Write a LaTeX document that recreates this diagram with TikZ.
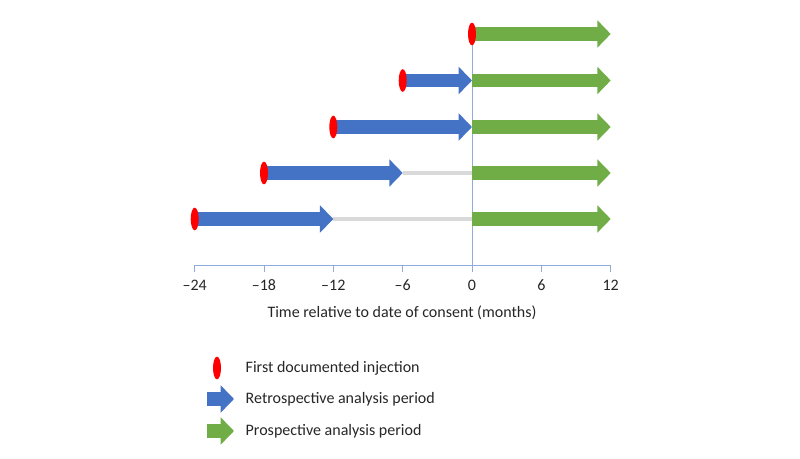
\documentclass[tikz,border=0pt]{standalone}
\usepackage{fontspec}
\setmainfont{Carlito}
\usetikzlibrary{arrows.meta,shapes.geometric}
\definecolor{retroblue}{HTML}{4472C4}
\definecolor{prospgreen}{HTML}{70AD47}
\definecolor{injred}{HTML}{FF0000}
\definecolor{gapgray}{HTML}{D9D9D9}
\definecolor{axisblue}{HTML}{8FAADC}
\definecolor{labeltext}{HTML}{262626}
\begin{document}
\begin{tikzpicture}[x=0.75pt,y=-0.75pt,
  font=\fontsize{12}{14}\selectfont, text=labeltext,
  inject/.style={ellipse, fill=injred, minimum width=6pt, minimum height=17pt, inner sep=0pt},
  retro/.style={draw=retroblue, line width=10pt, -{Triangle[length=10pt,width=20pt]}},
  prosp/.style={draw=prospgreen, line width=10pt, -{Triangle[length=10pt,width=20pt]}},
  gapline/.style={draw=gapgray, line width=3.5pt},
  axisline/.style={draw=axisblue, line width=0.7pt}]
\useasboundingbox (0,0) rectangle (800,459);

% row positions
\coordinate (s1) at (472,34);
\coordinate (e1) at (610.7,34);
\coordinate (s2) at (402.7,80.5);
\coordinate (z2) at (472,80.5);
\coordinate (e2) at (610.7,80.5);
\coordinate (s3) at (333.3,127);
\coordinate (z3) at (472,127);
\coordinate (e3) at (610.7,127);
\coordinate (s4) at (264,173);
\coordinate (m4) at (402.7,173);
\coordinate (z4) at (472,173);
\coordinate (e4) at (610.7,173);
\coordinate (s5) at (194.7,219);
\coordinate (m5) at (333.3,219);
\coordinate (z5) at (472,219);
\coordinate (e5) at (610.7,219);

% axis
\coordinate (ax0) at (472,265);
\node[inner sep=0pt] (tm24) at (194.7,265) {};
\node[inner sep=0pt] (tm18) at (264,265) {};
\node[inner sep=0pt] (tm12) at (333.3,265) {};
\node[inner sep=0pt] (tm6) at (402.7,265) {};
\node[inner sep=0pt] (t0) at (472,265) {};
\node[inner sep=0pt] (t6) at (541.3,265) {};
\node[inner sep=0pt] (t12) at (610.7,265) {};
\draw[axisline] (s1) -- (ax0);
\draw[axisline] (tm24.center) -- (t12.center);
\draw[axisline] (tm24.center) -- ++(0,7);
\draw[axisline] (tm18.center) -- ++(0,7);
\draw[axisline] (tm12.center) -- ++(0,7);
\draw[axisline] (tm6.center) -- ++(0,7);
\draw[axisline] (t0.center) -- ++(0,7);
\draw[axisline] (t6.center) -- ++(0,7);
\draw[axisline] (t12.center) -- ++(0,7);
\node (lm24) at (194.7,285) {–24};
\node (lm18) at (264,285) {–18};
\node (lm12) at (333.3,285) {–12};
\node (lm6) at (402.7,285) {–6};
\node (l0) at (472,285) {0};
\node (l6) at (541.3,285) {6};
\node (l12) at (610.7,285) {12};
\node (xtitle) at (402,313) {Time relative to date of consent (months)};

% periods
\draw[gapline] (m4) -- (z4);
\draw[gapline] (m5) -- (z5);
\draw[retro] (s2) -- (z2);
\draw[retro] (s3) -- (z3);
\draw[retro] (s4) -- (m4);
\draw[retro] (s5) -- (m5);
\draw[prosp] (s1) -- (e1);
\draw[prosp] (z2) -- (e2);
\draw[prosp] (z3) -- (e3);
\draw[prosp] (z4) -- (e4);
\draw[prosp] (z5) -- (e5);

% first injections
\node[inject] (i1) at (s1) {};
\node[inject] (i2) at (s2) {};
\node[inject] (i3) at (s3) {};
\node[inject] (i4) at (s4) {};
\node[inject] (i5) at (s5) {};

% legend
\node[inject] (kinj) at (217,368) {};
\coordinate (kr0) at (207,399);
\coordinate (kr1) at (234,399);
\coordinate (kp0) at (207,431);
\coordinate (kp1) at (234,431);
\draw[retro] (kr0) -- (kr1);
\draw[prosp] (kp0) -- (kp1);
\node[anchor=west] (tinj) at (241,368) {First documented injection};
\node[anchor=west] (tretro) at (241,399) {Retrospective analysis period};
\node[anchor=west] (tprosp) at (241,431) {Prospective analysis period};
\end{tikzpicture}
\end{document}
